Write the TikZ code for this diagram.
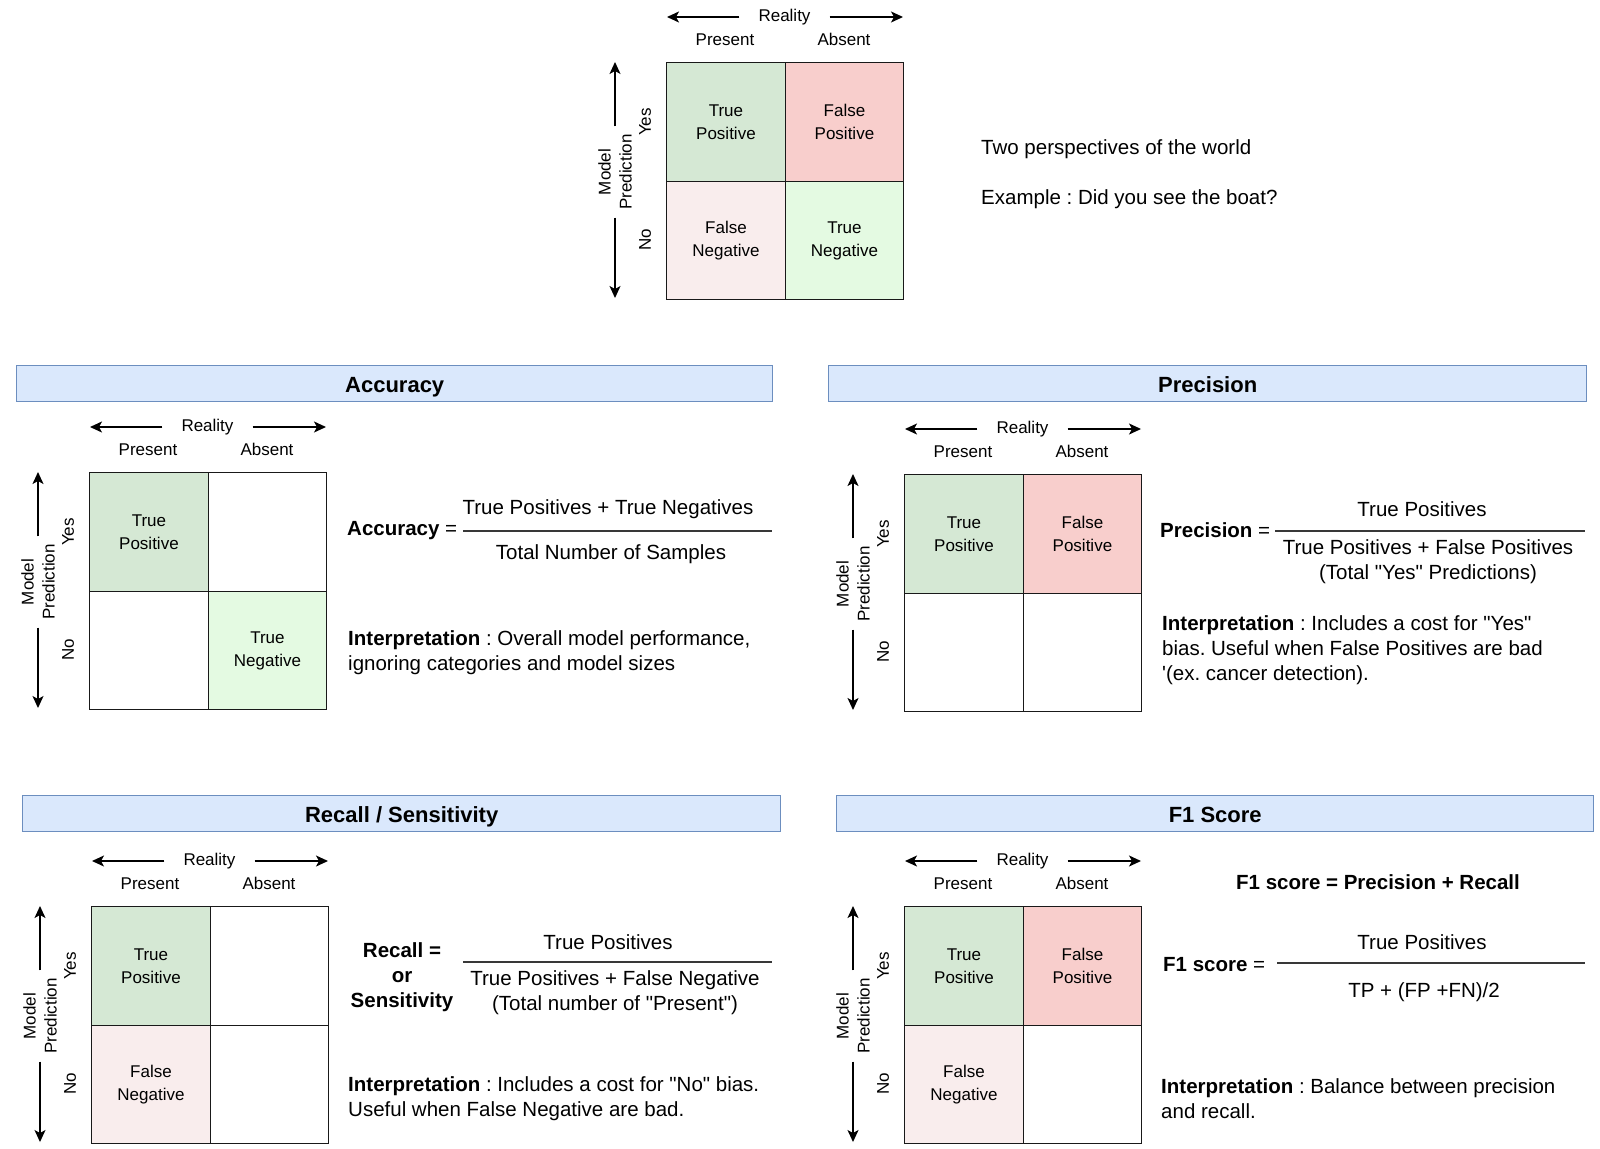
\documentclass[tikz,border=0pt]{standalone}
\usepackage{fontspec}
\setmainfont{Liberation Sans}
\usetikzlibrary{arrows.meta}
\definecolor{tpc}{HTML}{D5E8D4}
\definecolor{fpc}{HTML}{F8CECC}
\definecolor{fnc}{HTML}{F9EDED}
\definecolor{tnc}{HTML}{E4FAE2}
\definecolor{hdf}{HTML}{DAE8FC}
\definecolor{hds}{HTML}{6C8EBF}
\definecolor{fracc}{HTML}{383838}
\newcommand{\qd}{\textquotedbl}
\tikzset{
  lab/.style={font=\fontsize{17}{21}\selectfont, inner sep=0pt},
  body/.style={font=\fontsize{20.5}{25}\selectfont, inner sep=0pt, yshift=-1.5pt},
  hdtext/.style={font=\fontsize{22}{26}\selectfont\bfseries, inner sep=0pt, anchor=base},
  arr/.style={-{Stealth[length=12pt,width=11pt,inset=3pt]}, line width=1.4pt},
  cellbox/.style={draw=black!90, line width=1.4pt, anchor=north west, minimum width=118.5pt,
    minimum height=118.5pt, inner sep=0pt, align=center, font=\fontsize{17}{23}\selectfont},
  hdbox/.style={draw=hds, fill=hdf, line width=1.4pt, anchor=north west, minimum height=36pt, inner sep=0pt},
  fracline/.style={draw=fracc, line width=1.7pt}
}
\newcommand{\confmat}[3]{%
  \coordinate (#1-rl) at ({#2+1},{#3-45});
  \coordinate (#1-rr) at ({#2+237},{#3-45});
  \node[lab, minimum width=90pt] (#1-real) at ({#2+118.5},{#3-45}) {Reality};
  \draw[arr] (#1-real.west) -- (#1-rl);
  \draw[arr] (#1-real.east) -- (#1-rr);
  \node[lab] (#1-pres) at ({#2+59},{#3-22.5}) {Present};
  \node[lab] (#1-abs) at ({#2+178},{#3-22.5}) {Absent};
  \coordinate (#1-vt) at ({#2-51},{#3});
  \coordinate (#1-vb) at ({#2-51},{#3+236});
  \node[lab, rotate=90, minimum width=91pt, align=center] (#1-mp) at ({#2-51},{#3+110}) {Model\\Prediction};
  \draw[arr] (#1-mp.east) -- (#1-vt);
  \draw[arr] (#1-mp.west) -- (#1-vb);
  \node[lab, rotate=90] (#1-yes) at ({#2-21},{#3+60}) {Yes};
  \node[lab, rotate=90] (#1-no) at ({#2-21},{#3+178}) {No};
}
\newcommand{\cellq}[5]{\node[cellbox, fill=#4] (#1) at (#2,#3) {#5};}
\begin{document}
\frenchspacing
\begin{tikzpicture}[x=1pt,y=-1pt]
\fill[white] (0,0) rectangle (1600,1148);
\useasboundingbox (0,0) rectangle (1600,1148);

% ---------- top matrix ----------
\confmat{t}{666}{62}
\cellq{t-tp}{666}{62}{tpc}{True\\Positive}
\cellq{t-fp}{784.5}{62}{fpc}{False\\Positive}
\cellq{t-fn}{666}{180.5}{fnc}{False\\Negative}
\cellq{t-tn}{784.5}{180.5}{tnc}{True\\Negative}
\node[body, anchor=west] (t1) at (981,148) {Two perspectives of the world};
\node[body, anchor=west] (t2) at (981,198) {Example : Did you see the boat?};

% ---------- Accuracy ----------
\node[hdbox, minimum width=756pt] (ha) at (16,365) {};
\node[hdtext] (hat) at ([yshift=-8.5pt]ha.center) {Accuracy};
\confmat{a}{89}{472}
\cellq{a-tp}{89}{472}{tpc}{True\\Positive}
\cellq{a-fp}{207.5}{472}{white}{}
\cellq{a-fn}{89}{590.5}{white}{}
\cellq{a-tn}{207.5}{590.5}{tnc}{True\\Negative}
\node[body, anchor=west] (aeq) at (347,529) {\bfseries Accuracy\mdseries\ =};
\coordinate (afl) at (463,531);
\coordinate (afr) at (772,531);
\draw[fracline] (afl) -- (afr);
\node[body] (anum) at (608,508) {True Positives + True Negatives};
\node[body] (aden) at (611,553) {Total Number of Samples};
\node[body, anchor=west, align=left] (aint) at (348,651) {\textbf{Interpretation} : Overall model performance,\\ignoring categories and model sizes};

% ---------- Precision ----------
\node[hdbox, minimum width=758pt] (hp) at (828,365) {};
\node[hdtext] (hpt) at ([yshift=-8.5pt]hp.center) {Precision};
\confmat{p}{904}{474}
\cellq{p-tp}{904}{474}{tpc}{True\\Positive}
\cellq{p-fp}{1022.5}{474}{fpc}{False\\Positive}
\cellq{p-fn}{904}{592.5}{white}{}
\cellq{p-tn}{1022.5}{592.5}{white}{}
\node[body, anchor=west] (peq) at (1160,529) {\bfseries Precision\mdseries\ =};
\coordinate (pfl) at (1275,531);
\coordinate (pfr) at (1585,531);
\draw[fracline] (pfl) -- (pfr);
\node[body] (pnum) at (1422,508) {True Positives};
\node[body, align=center] (pden) at (1428,560) {True Positives + False Positives\\(Total \qd Yes\qd\ Predictions)};
\node[body, anchor=west, align=left] (pint) at (1162,649) {\textbf{Interpretation} : Includes a cost for \qd Yes\qd\\bias. Useful when False Positives are bad\\\textquotesingle(ex. cancer detection).};

% ---------- Recall ----------
\node[hdbox, minimum width=758pt] (hr) at (22,795) {};
\node[hdtext] (hrt) at ([yshift=-8.5pt]hr.center) {Recall / Sensitivity};
\confmat{r}{91}{906}
\cellq{r-tp}{91}{906}{tpc}{True\\Positive}
\cellq{r-fp}{209.5}{906}{white}{}
\cellq{r-fn}{91}{1024.5}{fnc}{False\\Negative}
\cellq{r-tn}{209.5}{1024.5}{white}{}
\node[body, align=center, font=\fontsize{20.5}{25}\selectfont\bfseries] (req) at (402,976) {Recall =\\or\\Sensitivity};
\coordinate (rfl) at (463,962);
\coordinate (rfr) at (772,962);
\draw[fracline] (rfl) -- (rfr);
\node[body] (rnum) at (608,941) {True Positives};
\node[body, align=center] (rden) at (615,991) {True Positives + False Negative\\(Total number of \qd Present\qd)};
\node[body, anchor=west, align=left] (rint) at (348,1097) {\textbf{Interpretation} : Includes a cost for \qd No\qd\ bias.\\Useful when False Negative are bad.};

% ---------- F1 ----------
\node[hdbox, minimum width=757pt] (hf) at (836,795) {};
\node[hdtext] (hft) at ([yshift=-8.5pt]hf.center) {F1 Score};
\confmat{f}{904}{906}
\cellq{f-tp}{904}{906}{tpc}{True\\Positive}
\cellq{f-fp}{1022.5}{906}{fpc}{False\\Positive}
\cellq{f-fn}{904}{1024.5}{fnc}{False\\Negative}
\cellq{f-tn}{1022.5}{1024.5}{white}{}
\node[body, font=\fontsize{20.5}{25}\selectfont\bfseries] (fsum) at (1378,881) {F1 score = Precision + Recall};
\node[body, anchor=west] (feq) at (1163,963) {\bfseries F1 score\mdseries\ =};
\coordinate (ffl) at (1277,963);
\coordinate (ffr) at (1585,963);
\draw[fracline] (ffl) -- (ffr);
\node[body] (fnum) at (1422,941) {True Positives};
\node[body] (fden) at (1424,991) {TP + (FP +FN)/2};
\node[body, anchor=west, align=left] (fint) at (1161,1097) {\textbf{Interpretation} : Balance between precision\\and recall.};
\end{tikzpicture}
\end{document}
